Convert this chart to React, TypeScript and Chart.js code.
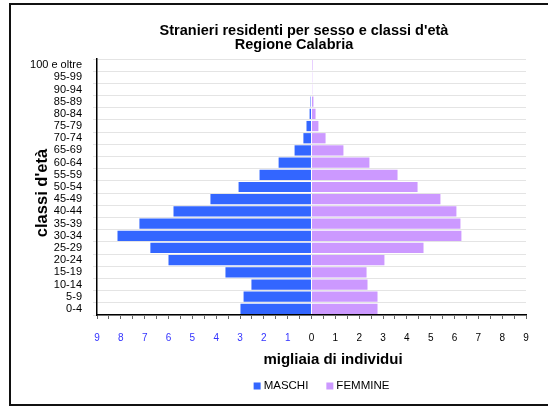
import React, { useEffect, useRef } from "react";
import { Chart, registerables } from "chart.js";

Chart.register(...registerables);

const TITLE_LINES = ["Stranieri residenti per sesso e classi d'età", "Regione Calabria"];
const X_TITLE = "migliaia di individui";
const Y_TITLE = "classi d'età";

const ageClasses = [
  "100 e oltre", "95-99", "90-94", "85-89", "80-84", "75-79", "70-74",
  "65-69", "60-64", "55-59", "50-54", "45-49", "40-44", "35-39",
  "30-34", "25-29", "20-24", "15-19", "10-14", "5-9", "0-4",
];

// thousands of individuals
const maschi = [
  0, 0, 0, 0.04, 0.08, 0.21, 0.34,
  0.71, 1.38, 2.18, 3.06, 4.24, 5.79, 7.22,
  8.14, 6.76, 6.0, 3.61, 2.52, 2.85, 2.98,
];
const femmine = [
  0.04, 0.03, 0.03, 0.08, 0.17, 0.29, 0.59,
  1.34, 2.43, 3.61, 4.45, 5.41, 6.08, 6.25,
  6.29, 4.7, 3.06, 2.31, 2.35, 2.77, 2.77,
];

const seriesLabels = ["MASCHI", "FEMMINE"];
const seriesColors = ["#3366ff", "#cc99ff"];

const FONT = '"Liberation Sans", Arial, Helvetica, sans-serif';

const textPlugin = {
  id: "customTexts",
  afterDraw(chart: any) {
    const ctx = chart.ctx as CanvasRenderingContext2D;
    ctx.save();
    ctx.fillStyle = "#000";
    ctx.textBaseline = "middle";
    ctx.textAlign = "center";
    ctx.font = `bold 14.5px ${FONT}`;
    ctx.fillText(TITLE_LINES[0], 304, 31);
    ctx.fillText(TITLE_LINES[1], 294, 45);

    ctx.font = `bold 15px ${FONT}`;
    ctx.fillText(X_TITLE, 333, 360);

    ctx.save();
    ctx.font = `bold 16.5px ${FONT}`;
    ctx.translate(42, 193);
    ctx.rotate(-Math.PI / 2);
    ctx.fillText(Y_TITLE, 0, 0);
    ctx.restore();

    // legend
    ctx.font = `11.5px ${FONT}`;
    ctx.textAlign = "left";
    const ds = chart.data.datasets;
    const box = 7, gap = 3, itemGap = 18;
    const widths = ds.map((d: any) => ctx.measureText(d.label).width);
    let total = 0;
    widths.forEach((w: number, i: number) => { total += box + gap + w + (i < widths.length - 1 ? itemGap : 0); });
    let x = 321.5 - total / 2;
    const y = 386;
    ds.forEach((d: any, i: number) => {
      ctx.fillStyle = d.backgroundColor;
      ctx.fillRect(x, y - box / 2, box, box);
      ctx.fillStyle = "#000";
      ctx.fillText(d.label, x + box + gap, y);
      x += box + gap + widths[i] + itemGap;
    });
    ctx.restore();
  },
};

export default function App() {
  const ref = useRef<HTMLCanvasElement>(null);

  useEffect(() => {
    if (!ref.current) return;
    const chart = new Chart(ref.current, {
      type: "bar",
      data: {
        labels: ageClasses,
        datasets: [
          {
            label: seriesLabels[0],
            data: maschi.map((v) => -v),
            backgroundColor: seriesColors[0],
            barPercentage: 0.84,
            categoryPercentage: 1,
          },
          {
            label: seriesLabels[1],
            data: femmine,
            backgroundColor: seriesColors[1],
            barPercentage: 0.84,
            categoryPercentage: 1,
          },
        ],
      },
      options: {
        indexAxis: "y",
        animation: false,
        responsive: false,
        maintainAspectRatio: false,
        layout: { padding: { top: 59, left: 0, right: 22, bottom: 0 } },
        plugins: {
          legend: { display: false },
          title: { display: false },
          tooltip: { enabled: false },
        },
        scales: {
          x: {
            stacked: true,
            min: -9,
            max: 9,
            afterFit: (s: any) => { s.height = 91; },
            border: { color: "#000", width: 1.5 },
            grid: { drawOnChartArea: false, drawTicks: true, tickLength: 4, color: "#666" },
            ticks: {
              stepSize: 0.5,
              autoSkip: false,
              maxRotation: 0,
              padding: 13,
              font: { family: FONT, size: 10 },
              color: (c: any) => (c.tick && c.tick.value < 0 ? "#3333ff" : "#000"),
              callback: (v: any) => (Number.isInteger(v) ? String(Math.abs(v)) : ""),
            },
          },
          y: {
            stacked: true,
            afterFit: (s: any) => { s.width = 97; },
            border: { color: "#000", width: 1.5 },
            grid: { color: "#e4e4e4", tickLength: 4, offset: true },
            ticks: {
              padding: 11,
              autoSkip: false,
              font: { family: FONT, size: 11 },
              color: "#000",
            },
          },
        },
      },
      plugins: [textPlugin],
    });
    return () => chart.destroy();
  }, []);

  return (
    <div style={{ position: "absolute", left: 0, top: 0, width: 548, height: 406, overflow: "hidden", background: "#fff" }}>
      <div
        style={{
          position: "absolute",
          left: 9,
          top: 3,
          width: 539,
          height: 399,
          borderTop: "2px solid #111",
          borderLeft: "2px solid #111",
          borderBottom: "2px solid #111",
        }}
      />
      <canvas ref={ref} width={548} height={406} style={{ position: "absolute", left: 0, top: 0, width: 548, height: 406 }} />
    </div>
  );
}
